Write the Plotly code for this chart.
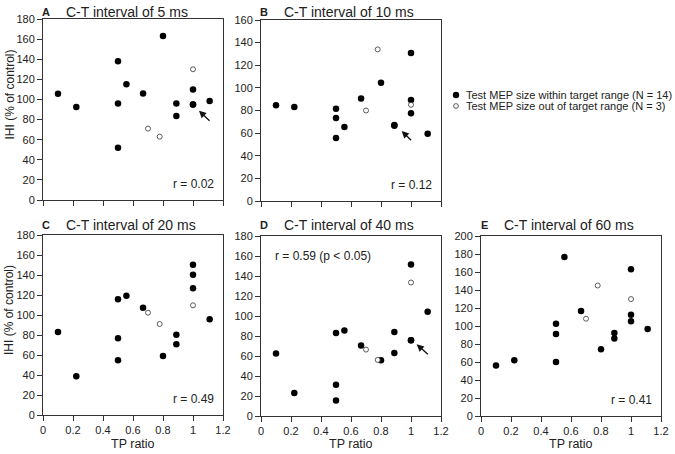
import plotly.graph_objects as go

# ---------------- data ----------------
tp_within = [0.1, 0.222, 0.5, 0.5, 0.5, 0.556, 0.667, 0.8, 0.889, 0.889, 1.0, 1.0, 1.0, 1.111]
tp_out = [0.7, 0.778, 1.0]

ihi_within_5 = [105.7, 92.5, 138, 96, 52, 115, 106, 163, 96, 83.5, 110, 95, 95, 98.4]
ihi_out_5 = [71, 63, 130]
ihi_within_10 = [84.6, 83, 81.6, 73.4, 55.7, 65.4, 90.5, 104.6, 67.2, 66.5, 130.8, 89.3, 77.5, 59.5]
ihi_out_10 = [80, 134, 85]
ihi_within_20 = [83, 38.7, 115.7, 76.7, 54.7, 119.3, 107.3, 59, 80.3, 70.7, 150.3, 140.3, 126.7, 95.7]
ihi_out_20 = [102.3, 91, 109.7]
ihi_within_40 = [62.4, 22.9, 83, 31.2, 15.6, 85.4, 70.4, 55.8, 84, 63.1, 151.4, 75.7, 75.7, 104.3]
ihi_out_40 = [66.4, 56.1, 133.5]
ihi_within_60 = [56.1, 62, 102.6, 91.1, 60.1, 176.8, 116.6, 74.2, 92.3, 86, 163.1, 112.5, 105.2, 96.7]
ihi_out_60 = [108.1, 145, 129.9]

panel_letters = ["A", "B", "C", "D", "E"]
panel_titles = ["C-T interval of 5 ms", "C-T interval of 10 ms", "C-T interval of 20 ms",
                "C-T interval of 40 ms", "C-T interval of 60 ms"]
r_labels = ["r = 0.02", "r = 0.12", "r = 0.49", "r = 0.59 (p < 0.05)", "r = 0.41"]
y_max = [180, 160, 180, 180, 200]
x_ticks = [0, 0.2, 0.4, 0.6, 0.8, 1.0, 1.2]
x_ticklabels = ["0", "0.2", "0.4", "0.6", "0.8", "1", "1.2"]
legend_names = ["Test MEP size within target range (N = 14)",
                "Test MEP size out of target range (N = 3)"]
x_title = "TP ratio"
y_title = "IHI (% of control)"

within = [ihi_within_5, ihi_within_10, ihi_within_20, ihi_within_40, ihi_within_60]
out = [ihi_out_5, ihi_out_10, ihi_out_20, ihi_out_40, ihi_out_60]

# ---------------- layout geometry (pixels) ----------------
W, H = 675, 454
boxes = [(43, 223, 19, 200), (261, 441, 20, 201),
         (43, 223, 235, 415), (261, 441, 236, 416), (481, 661, 236, 416)]

TXT = "#222222"
FONT = "Arial, Liberation Sans, sans-serif"

fig = go.Figure()
layout = dict(
    width=W, height=H, margin=dict(l=0, r=0, t=0, b=0, autoexpand=False),
    paper_bgcolor="white", plot_bgcolor="white",
    font=dict(family=FONT, color=TXT, size=11),
    showlegend=False,
)

annotations = []
shapes = []
for i in range(5):
    l, r, t, b = boxes[i]
    xa = "xaxis" if i == 0 else f"xaxis{i+1}"
    ya = "yaxis" if i == 0 else f"yaxis{i+1}"
    xr = "x" if i == 0 else f"x{i+1}"
    yr = "y" if i == 0 else f"y{i+1}"
    bottom_row = i >= 2
    layout[xa] = dict(
        domain=[l / W, r / W], range=[0, 1.2], anchor=yr, automargin=False,
        tickvals=x_ticks, ticktext=x_ticklabels, showticklabels=bottom_row,
        ticks="outside", ticklen=5, tickwidth=1, tickcolor="#333",
        showline=True, linecolor="#333", linewidth=1, mirror=True,
        showgrid=False, zeroline=False, fixedrange=True,
        tickfont=dict(family=FONT, size=11, color=TXT),
    )
    layout[ya] = dict(
        domain=[1 - b / H, 1 - t / H], range=[0, y_max[i]], anchor=xr, automargin=False,
        dtick=20, tick0=0,
        ticks="outside", ticklen=5, tickwidth=1, tickcolor="#333",
        showline=True, linecolor="#333", linewidth=1, mirror=True,
        showgrid=False, zeroline=False, fixedrange=True,
        tickfont=dict(family=FONT, size=11, color=TXT),
    )
    fig.add_trace(go.Scatter(
        x=tp_within, y=within[i], mode="markers", xaxis=xr, yaxis=yr,
        name=legend_names[0], showlegend=False,
        marker=dict(size=6.5, color="black", line=dict(width=0)),
    ))
    fig.add_trace(go.Scatter(
        x=tp_out, y=out[i], mode="markers", xaxis=xr, yaxis=yr,
        name=legend_names[1], showlegend=False,
        marker=dict(size=5, color="white", line=dict(width=0.8, color="#333")),
    ))
    ty = 11.5 if i < 2 else 225
    annotations.append(dict(text=f"<b>{panel_letters[i]}</b>", x=(l + 3) / W, y=1 - ty / H,
                            xref="paper", yref="paper", xanchor="center", yanchor="middle",
                            showarrow=False, font=dict(family=FONT, size=11, color=TXT)))
    annotations.append(dict(text=panel_titles[i], x=(l + 21) / W, y=1 - ty / H,
                            xref="paper", yref="paper", xanchor="left", yanchor="middle",
                            showarrow=False, font=dict(family=FONT, size=14, color=TXT)))
    if i == 3:
        annotations.append(dict(text=r_labels[i], x=(l + 12) / W, y=1 - 255.5 / H,
                                xref="paper", yref="paper", xanchor="left", yanchor="middle",
                                showarrow=False, font=dict(family=FONT, size=12, color=TXT)))
    else:
        annotations.append(dict(text=r_labels[i], x=(r - 7) / W, y=1 - (b - 16) / H,
                                xref="paper", yref="paper", xanchor="right", yanchor="middle",
                                showarrow=False, font=dict(family=FONT, size=12, color=TXT)))
    if bottom_row:
        annotations.append(dict(text=x_title, x=((l + r) / 2) / W, y=1 - 444 / H,
                                xref="paper", yref="paper", xanchor="center", yanchor="middle",
                                showarrow=False, font=dict(family=FONT, size=12.5, color=TXT)))
    if i in (0, 2):
        annotations.append(dict(text=y_title, x=9 / W, y=1 - ((t + b) / 2 - 15) / H,
                                xref="paper", yref="paper", xanchor="center", yanchor="middle",
                                textangle=-90, showarrow=False,
                                font=dict(family=FONT, size=12, color=TXT)))

# legend (key symbols + labels)
leg_rows = [(95, "black", 3.2, 0), (106, "white", 2.4, 0.8)]
for (yy, fill, rad, lw), name in zip(leg_rows, legend_names):
    shapes.append(dict(type="circle", xref="paper", yref="paper",
                       x0=(456 - rad) / W, x1=(456 + rad) / W,
                       y0=1 - (yy + rad) / H, y1=1 - (yy - rad) / H,
                       fillcolor=fill, line=dict(color="#333", width=lw)))
    annotations.append(dict(text=name, x=464 / W, y=1 - yy / H, xref="paper", yref="paper",
                            xanchor="left", yanchor="middle", showarrow=False,
                            font=dict(family=FONT, size=11, color=TXT)))

# arrows (A, B, D) pointing at the example participant
arrows = [("x", "y", 1.04, 88.8, 1.12, 77.3),
          ("x2", "y2", 0.938, 61.9, 1.011, 52.4),
          ("x4", "y4", 1.038, 71.7, 1.122, 60.3)]
for xr, yr, hx, hy, tx, ty in arrows:
    annotations.append(dict(x=hx, y=hy, ax=tx, ay=ty, xref=xr, yref=yr, axref=xr, ayref=yr,
                            text="", showarrow=True, arrowhead=2, arrowsize=1.1,
                            arrowwidth=1.3, arrowcolor="#111"))

layout["annotations"] = annotations
layout["shapes"] = shapes
fig.update_layout(**layout)
fig.write_html("out.html", config={"displayModeBar": False},
               post_script="document.body.style.margin='0';document.body.style.overflow='hidden';")
